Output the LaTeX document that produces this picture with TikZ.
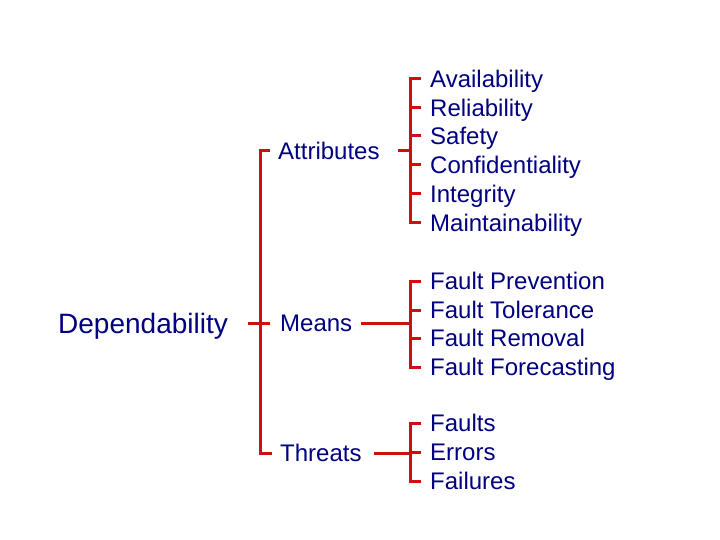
\documentclass[tikz,border=0pt]{standalone}
\usepackage{fontspec}
\setmainfont{Liberation Sans}
\definecolor{brred}{RGB}{204,16,16}
\definecolor{txtblue}{RGB}{0,0,128}

\tikzset{
  br/.style={draw=brred, line width=3pt},
  lbl/.style={anchor=west, inner sep=0pt, text=txtblue,
    font=\fontsize{24}{24}\selectfont, text height=17.2pt, text depth=0pt},
  big/.style={lbl, font=\fontsize{28}{28}\selectfont, text height=20pt},
}

\begin{document}
\begin{tikzpicture}[x=1pt,y=-1pt]

    \useasboundingbox (0,0) rectangle (720,540);

    % spines of the brackets
    \coordinate (lx) at (260,0);
    \coordinate (rx) at (410,0);

    % left part
    \node[big] (dep) at (58,323) {Dependability};
    \node[lbl] (att) at (278,151) {Attributes};
    \node[lbl] (mea) at (280,323) {Means};
    \node[lbl] (thr) at (280,453) {Threats};

    % attributes
    \node[lbl] (av) at (430,79)  {Availability};
    \node[lbl] (re) at (430,108) {Reliability};
    \node[lbl] (sa) at (430,136) {Safety};
    \node[lbl] (co) at (430,165) {Confidentiality};
    \node[lbl] (in) at (430,194) {Integrity};
    \node[lbl] (ma) at (430,223) {Maintainability};

    % means
    \node[lbl] (fp) at (430,281) {Fault Prevention};
    \node[lbl] (ft) at (430,310) {Fault Tolerance};
    \node[lbl] (fr) at (430,338) {Fault Removal};
    \node[lbl] (ff) at (430,367) {Fault Forecasting};

    % threats
    \node[lbl] (fa) at (430,423) {Faults};
    \node[lbl] (er) at (430,452) {Errors};
    \node[lbl] (fl) at (430,481) {Failures};

    % big bracket
    \draw[br] ([xshift=-8]att.west) -- (att.west -| lx) -- (thr.west -| lx) -- ([xshift=-8]thr.west);
    \draw[br] ([xshift=20]dep.east) -- ([xshift=-10]mea.west);

    % into the small brackets
    \draw[br] ([xshift=18]att.east) -- (att.east -| rx);
    \draw[br] ([xshift=9]mea.east) -- (mea.east -| rx);
    \draw[br] ([xshift=12]thr.east) -- (thr.east -| rx);

    % small brackets
    \draw[br] ([xshift=-9]av.west) -- (av.west -| rx) -- (ma.west -| rx) -- ([xshift=-9]ma.west);
    \foreach \n in {re,sa,co,in}
        \draw[br] ([xshift=-9]\n.west) -- (\n.west -| rx);

    \draw[br] ([xshift=-9]fp.west) -- (fp.west -| rx) -- (ff.west -| rx) -- ([xshift=-9]ff.west);
    \foreach \n in {ft,fr}
        \draw[br] ([xshift=-9]\n.west) -- (\n.west -| rx);

    \draw[br] ([xshift=-9]fa.west) -- (fa.west -| rx) -- (fl.west -| rx) -- ([xshift=-9]fl.west);
    \draw[br] ([xshift=-9]er.west) -- (er.west -| rx);

\end{tikzpicture}
\end{document}
